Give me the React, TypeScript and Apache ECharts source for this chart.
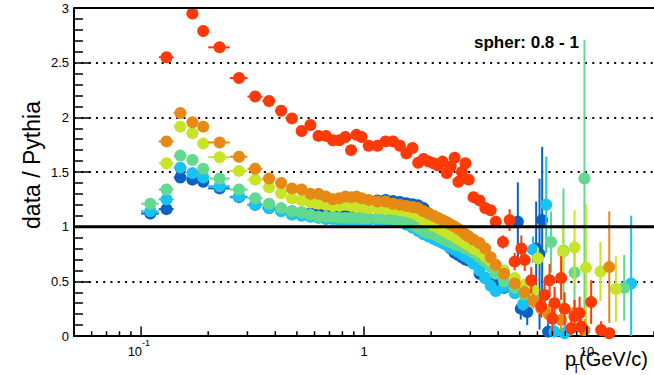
import React, { useEffect, useRef } from "react";
import * as echarts from "echarts";

const FONT = '"Liberation Sans", Arial, Helvetica, sans-serif';

// pT bin edges (GeV/c) of the common binning
const binEdges = [
  0.10, 0.12, 0.14, 0.16, 0.18, 0.20,
  0.25, 0.30, 0.35, 0.40, 0.45, 0.50, 0.55, 0.60, 0.65, 0.70, 0.75, 0.80, 0.85, 0.90, 0.95, 1.0,
  1.1, 1.2, 1.3, 1.4, 1.5, 1.6, 1.7, 1.8, 1.9, 2.0, 2.1, 2.2, 2.3, 2.4, 2.5, 2.6, 2.7, 2.8, 2.9, 3.0,
  3.2, 3.4, 3.6, 3.8, 4.0,
];

// ratio values per bin (null = no point)
const darkBlueLow = [
  1.12, 1.16, 1.45, 1.43, 1.41,
  1.35, 1.27, 1.20, 1.17, 1.15, 1.14, 1.13, 1.12, 1.12, 1.12, 1.12, 1.12, 1.13, 1.14, 1.16, 1.18,
  1.21, 1.24, 1.245, 1.235, 1.225, 1.215, 1.205, 1.195, 1.17, 1.12, 1.05, 0.98, 0.92, 0.86, 0.80, 0.76, 0.74, 0.72, 0.70, 0.69,
  0.67, 0.57, 0.53, 0.50, 0.47,
];
const cyanLow = [
  1.14, 1.25, 1.54, 1.49, 1.45,
  1.37, 1.275, 1.20, 1.17, 1.14, 1.11, 1.10, 1.09, 1.08, 1.07, 1.07, 1.06, 1.06, 1.06, 1.06, 1.06,
  1.06, 1.06, 1.05, 1.05, 1.04, 1.02, 0.99, 0.96, 0.93, 0.91, 0.89, 0.87, 0.85, 0.83, 0.81, 0.79, 0.77, 0.75, 0.73, 0.71,
  0.66, 0.60, 0.53, 0.46, 0.41,
];
const greenLow = [
  1.21, 1.34, 1.65, 1.61, 1.53,
  1.44, 1.34, 1.26, 1.21, 1.17, 1.14, 1.13, 1.11, 1.09, 1.09, 1.09, 1.08, 1.08, 1.08, 1.08, 1.077,
  1.077, 1.077, 1.075, 1.07, 1.06, 1.05, 1.015, 0.99, 0.955, 0.94, 0.93, 0.91, 0.89, 0.87, 0.86, 0.84, 0.83, 0.82, 0.80, 0.79,
  0.76, 0.72, 0.68, 0.63, 0.57,
];
const yellowLow = [
  null, 1.58, 1.915, 1.855, 1.76,
  1.635, 1.51, 1.43, 1.36, 1.305, 1.26, 1.24, 1.22, 1.21, 1.20, 1.19, 1.19, 1.20, 1.19, 1.18, 1.18,
  1.17, 1.17, 1.16, 1.16, 1.15, 1.14, 1.125, 1.10, 1.06, 1.04, 1.01, 0.99, 0.97, 0.95, 0.93, 0.91, 0.89, 0.87, 0.85, 0.83,
  0.80, 0.77, 0.73, 0.69, 0.65,
];
const orangeLow = [
  null, 1.78, 2.04, 1.955, 1.915,
  1.77, 1.64, 1.53, 1.44, 1.40, 1.35, 1.34, 1.30, 1.30, 1.275, 1.25, 1.26, 1.275, 1.27, 1.275, 1.26,
  1.245, 1.23, 1.23, 1.21, 1.20, 1.19, 1.18, 1.17, 1.14, 1.12, 1.10, 1.08, 1.06, 1.04, 1.02, 1.00, 0.98, 0.96, 0.93, 0.91,
  0.88, 0.85, 0.80, 0.72, 0.65,
];
const redLow = [
  null, 2.55, null, 2.95, 2.79,
  2.64, 2.36, 2.19, 2.15, 2.06, 1.99, 1.875, 1.93, 1.83, 1.83, 1.79, 1.79, 1.82, 1.70, 1.84, 1.82,
  1.74, 1.74, 1.78, 1.78, 1.74, 1.67, 1.72, 1.585, 1.62, 1.595, 1.58, 1.56, 1.595, 1.49, 1.55, 1.63, 1.41, 1.50, 1.58, 1.43,
  1.27, 1.24, 1.17, 1.15, 1.045,
];

// high-pT points: [pT, ratio, error]
const darkBlueTail = [
  [4.25, 0.44, 0.05], [4.9, 1.045, 0.36], [5.05, 0.25, 0.1], [5.4, 0.22, 0.12],
  [5.92, 0.80, 0.43], [6.13, 0.75, 0.69], [6.3, 1.06, 0.67], [6.7, 0.04, 0.1],
];
const cyanTail = [
  [4.25, 0.45, 0.03], [4.75, 0.39, 0.04], [5.17, 0.29, 0.06], [5.73, 0.79, 0.12],
  [6.57, 1.20, 0.44], [7.16, 0.04, 0.1], [7.94, 0.025, 0.1], [15.8, 0.48, 0.62],
];
const greenTail = [
  [4.25, 0.50, 0.03], [4.75, 0.44, 0.04], [5.25, 0.38, 0.05], [5.75, 0.34, 0.06],
  [6.9, 0.86, 0.28], [7.85, 0.78, 0.57], [8.8, 0.58, 0.3], [9.75, 1.44, 1.27], [14.7, 0.44, 0.3],
];
const yellowTail = [
  [4.25, 0.60, 0.03], [4.75, 0.53, 0.04], [5.25, 0.47, 0.05], [5.75, 0.42, 0.06],
  [6.03, 0.71, 0.1], [7.8, 0.77, 0.25], [8.8, 0.81, 0.34], [9.9, 0.625, 0.58], [11.5, 0.59, 0.27], [13.5, 0.43, 0.3],
];
const orangeTail = [
  [4.25, 0.57, 0.04], [4.75, 0.48, 0.05], [5.25, 0.40, 0.06], [5.75, 0.32, 0.07],
  [6.25, 0.25, 0.08], [6.75, 0.20, 0.09], [7.66, 0.146, 0.1], [8.8, 0.21, 0.12], [9.75, 0.055, 0.1], [12.6, 0.63, 0.51],
];
const redTail = [
  [4.2, 0.86, 0.06], [4.5, 1.06, 0.1], [4.74, 0.68, 0.08], [5.08, 0.80, 0.12], [5.26, 0.695, 0.1],
  [5.63, 0.51, 0.12], [6.24, 0.27, 0.1], [6.46, 0.375, 0.12], [6.8, 0.51, 0.15], [7.16, 0.30, 0.15],
  [7.0, 0.16, 0.12], [7.66, 0.53, 0.2], [7.94, 0.25, 0.15], [8.5, 0.07, 0.1], [8.8, 0.18, 0.15],
  [9.27, 0.21, 0.15], [9.42, 0.085, 0.1], [10.45, 0.31, 0.2], [11.58, 0.055, 0.08], [12.6, 0.025, 0.05],
];

const xMin = 0.05;
const xMax = 20;
const yMin = 0;
const yMax = 3;
const yStep = 0.5;
const xMajorTicks = [0.1, 1, 10];
const xMinorTicks = [0.05, 0.06, 0.07, 0.08, 0.09, 0.2, 0.3, 0.4, 0.5, 0.6, 0.7, 0.8, 0.9, 2, 3, 4, 5, 6, 7, 8, 9, 20];
const xLabelMain = ["10", "1", "10"];
const xLabelSup = ["-1", "", ""];
const refLines = [
  [1, 3], // y value, line width
  [3, 2],
];

const title = "spher: 0.8 - 1";
const yTitle = "data / Pythia";

function buildPoints(low: (number | null)[], tail: number[][]) {
  const pts: number[][] = [];
  low.forEach((v, i) => {
    if (v == null) return;
    const lo = binEdges[i];
    const hi = binEdges[i + 1];
    pts.push([(lo + hi) / 2, v, lo, hi, 0]);
  });
  tail.forEach(([x, v, e]) => pts.push([x, v, x, x, e]));
  return pts;
}

function makeDataSeries(color: string, low: (number | null)[], tail: number[][], z: number) {
  return {
    type: "custom",
    coordinateSystem: "cartesian2d",
    clip: false,
    silent: true,
    z,
    encode: { x: 0, y: 1 },
    data: buildPoints(low, tail),
    renderItem: (_params: any, api: any) => {
      const x = api.value(0);
      const y = api.value(1);
      const xlo = api.value(2);
      const xhi = api.value(3);
      const e = api.value(4);
      const c = api.coord([x, y]);
      const children: any[] = [];
      if (e > 0) {
        const t = api.coord([x, Math.min(y + e, yMax)]);
        const b = api.coord([x, Math.max(y - e, yMin)]);
        children.push({
          type: "line",
          shape: { x1: c[0], y1: t[1], x2: c[0], y2: b[1] },
          style: { stroke: color, lineWidth: 2 },
        });
      }
      if (xhi > xlo) {
        const l = api.coord([xlo, y]);
        const r = api.coord([xhi, y]);
        children.push({
          type: "line",
          shape: { x1: l[0], y1: c[1], x2: r[0], y2: c[1] },
          style: { stroke: color, lineWidth: 2 },
        });
      }
      children.push({ type: "circle", shape: { cx: c[0], cy: c[1], r: 6 }, style: { fill: color } });
      return { type: "group", children };
    },
  };
}

export default function App() {
  const ref = useRef<HTMLDivElement>(null);
  useEffect(() => {
    const chart = echarts.init(ref.current!, null, { renderer: "svg" });
    const dataSeries = [
      makeDataSeries("#0862c4", darkBlueLow, darkBlueTail, 2),
      makeDataSeries("#18c3f4", cyanLow, cyanTail, 3),
      makeDataSeries("#62d98e", greenLow, greenTail, 4),
      makeDataSeries("#c8e428", yellowLow, yellowTail, 5),
      makeDataSeries("#e68a16", orangeLow, orangeTail, 6),
      makeDataSeries("#ff3a06", redLow, redTail, 7),
    ];
    const tickSeries = {
      type: "custom",
      coordinateSystem: "cartesian2d",
      clip: false,
      silent: true,
      z: 20,
      encode: { x: 0, y: 1 },
      data: [...xMajorTicks.map((v) => [v, 0, 1]), ...xMinorTicks.map((v) => [v, 0, 0])],
      renderItem: (_p: any, api: any) => {
        const p = api.coord([api.value(0), yMin]);
        const len = api.value(2) === 1 ? 9.5 : 4.8;
        return {
          type: "line",
          shape: { x1: p[0], y1: p[1], x2: p[0], y2: p[1] - len },
          style: { stroke: "#000", lineWidth: 1.5 },
        };
      },
    };
    const labelSeries = {
      type: "custom",
      coordinateSystem: "cartesian2d",
      clip: false,
      silent: true,
      z: 20,
      encode: { x: 0, y: 1 },
      data: xMajorTicks.map((v) => [v, 0]),
      renderItem: (params: any, api: any) => {
        const i = params.dataIndex;
        const p = api.coord([api.value(0), yMin]);
        const sup = xLabelSup[i];
        const children: any[] = [
          {
            type: "text",
            x: sup ? p[0] + 1 : p[0],
            y: p[1] + 15.5,
            style: {
              text: xLabelMain[i],
              font: `13px ${FONT}`,
              fill: "#000",
              align: sup ? "right" : "center",
              verticalAlign: "middle",
            },
          },
        ];
        if (sup) {
          children.push({
            type: "text",
            x: p[0] + 1,
            y: p[1] + 6.5,
            style: { text: sup, font: `9px ${FONT}`, fill: "#000", align: "left", verticalAlign: "middle" },
          });
        }
        return { type: "group", children };
      },
    };
    const lineSeries = {
      type: "custom",
      coordinateSystem: "cartesian2d",
      clip: false,
      silent: true,
      z: 30,
      encode: { x: 0, y: 1 },
      data: refLines.map(([v, w]) => [xMin, v, w]),
      renderItem: (_p: any, api: any) => {
        const a = api.coord([xMin, api.value(1)]);
        const b = api.coord([xMax, api.value(1)]);
        return {
          type: "line",
          shape: { x1: a[0], y1: a[1], x2: b[0], y2: b[1] },
          style: { stroke: "#000", lineWidth: api.value(2) },
        };
      },
    };

    chart.setOption({
      animation: false,
      backgroundColor: "#fff",
      grid: { left: 74, top: 8, right: -1, bottom: 39 },
      xAxis: {
        type: "log",
        logBase: 10,
        min: xMin,
        max: xMax,
        axisLine: { show: true, onZero: false, lineStyle: { color: "#000", width: 2 } },
        axisTick: { show: false },
        axisLabel: { show: false },
        splitLine: { show: false },
        minorTick: { show: false },
      },
      yAxis: {
        type: "value",
        min: yMin,
        max: yMax,
        interval: yStep,
        axisLine: { show: true, onZero: false, lineStyle: { color: "#000", width: 2 } },
        axisTick: { show: true, inside: true, length: 17, lineStyle: { color: "#000", width: 1.5 } },
        minorTick: { show: true, splitNumber: 5, length: 9, lineStyle: { color: "#000", width: 1.5 } },
        axisLabel: { fontSize: 13, fontFamily: FONT, color: "#000", margin: 5 },
        splitLine: { show: true, lineStyle: { color: "#000", width: 2, type: [2, 5.3] } },
      },
      graphic: [
        {
          type: "text",
          x: 474,
          y: 42.5,
          z: 50,
          style: { text: title, font: `bold 17px ${FONT}`, fill: "#000", align: "left", verticalAlign: "middle" },
        },
        {
          type: "text",
          x: 32,
          y: 165,
          rotation: Math.PI / 2,
          style: { text: yTitle, font: `23px ${FONT}`, fill: "#000", align: "center", verticalAlign: "middle" },
        },
        {
          type: "text",
          x: 565,
          y: 358.5,
          z: 50,
          style: { text: "p", font: `20px ${FONT}`, fill: "#000", align: "left", verticalAlign: "middle" },
        },
        {
          type: "text",
          x: 572.5,
          y: 369,
          z: 50,
          style: { text: "T", font: `12px ${FONT}`, fill: "#000", align: "left", verticalAlign: "middle" },
        },
        {
          type: "text",
          x: 579,
          y: 358.5,
          z: 50,
          style: { text: "(GeV/c)", font: `20px ${FONT}`, fill: "#000", align: "left", verticalAlign: "middle" },
        },
      ],
      series: [...dataSeries, tickSeries, labelSeries, lineSeries],
    });
    return () => chart.dispose();
  }, []);
  return (
    <div
      ref={ref}
      style={{ position: "fixed", left: 0, top: 0, width: 654, height: 375, background: "#fff" }}
    />
  );
}
